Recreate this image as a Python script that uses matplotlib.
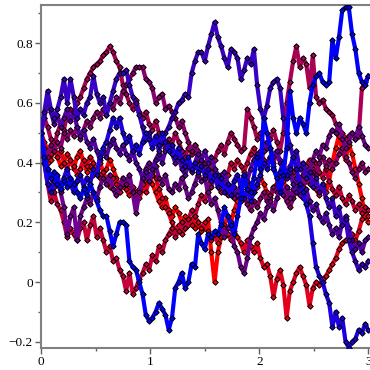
import numpy as np
import matplotlib
matplotlib.use("Agg")
import matplotlib.pyplot as plt
from matplotlib.ticker import MultipleLocator, FixedLocator

dt = 0.03

s0 = [0.50,0.47,0.44,0.41,0.45,0.42,0.39,0.40,0.43,0.41,
      0.38,0.42,0.44,0.40,0.37,0.39,0.36,0.38,0.40,0.37,
      0.38,0.41,0.38,0.35,0.32,0.34,0.31,0.29,0.32,0.30,
      0.28,0.31,0.34,0.36,0.33,0.30,0.27,0.25,0.28,0.24,
      0.22,0.25,0.23,0.20,0.22,0.19,0.21,0.18,0.20,0.17,
      0.18,0.21,0.10,0.00,0.10,0.15,0.19,0.22,0.20,0.24,
      0.27,0.30,0.28,0.31,0.33,0.30,0.32,0.35,0.33,0.30,
      0.28,0.31,0.33,0.36,0.34,0.31,0.28,0.30,0.33,0.35,
      0.32,0.34,0.37,0.34,0.31,0.29,0.32,0.30,0.34,0.40,
      0.45,0.49,0.44,0.41,0.46,0.43,0.38,0.33,0.28,0.22,
      0.20]
s1 = [0.50,0.44,0.40,0.43,0.46,0.42,0.44,0.40,0.38,0.41,
      0.39,0.36,0.38,0.41,0.39,0.42,0.40,0.37,0.35,0.37,
      0.34,0.32,0.35,0.33,0.30,0.33,0.31,0.33,0.30,0.28,
      0.31,0.33,0.30,0.34,0.36,0.35,0.31,0.28,0.25,0.23,
      0.20,0.17,0.19,0.16,0.18,0.21,0.19,0.22,0.20,0.18,
      0.20,0.17,0.14,0.16,0.13,0.15,0.18,0.16,0.14,0.17,
      0.15,0.13,0.10,0.14,0.12,0.10,0.13,0.08,0.05,0.06,
      0.02,-0.05,0.01,0.04,-0.01,-0.12,-0.03,0.00,0.03,0.05,
      0.02,-0.01,-0.08,-0.02,0.00,-0.01,0.01,0.02,0.04,0.06,
      0.08,0.11,0.13,0.14,0.15,0.16,0.14,0.17,0.21,0.24,
      0.22]
s2 = [0.50,0.40,0.33,0.27,0.30,0.26,0.24,0.20,0.15,0.18,
      0.16,0.14,0.18,0.20,0.14,0.19,0.22,0.15,0.18,0.14,
      0.10,0.12,0.07,0.08,0.04,0.02,-0.03,0.03,-0.04,-0.02,
      0.01,0.03,0.06,0.04,0.09,0.07,0.12,0.10,0.14,0.16,
      0.18,0.15,0.17,0.20,0.18,0.21,0.24,0.22,0.26,0.29,
      0.27,0.31,0.34,0.36,0.32,0.30,0.33,0.36,0.40,0.38,
      0.41,0.39,0.37,0.40,0.43,0.45,0.42,0.44,0.41,0.39,
      0.42,0.40,0.43,0.41,0.38,0.36,0.39,0.37,0.34,0.33,
      0.36,0.39,0.41,0.38,0.40,0.37,0.35,0.38,0.34,0.31,
      0.29,0.32,0.28,0.26,0.29,0.27,0.24,0.26,0.23,0.25,
      0.24]
s3 = [0.50,0.55,0.52,0.48,0.45,0.50,0.53,0.51,0.56,0.58,
      0.57,0.60,0.62,0.65,0.68,0.70,0.72,0.73,0.74,0.76,
      0.77,0.79,0.77,0.74,0.72,0.66,0.63,0.60,0.58,0.61,
      0.57,0.55,0.57,0.53,0.51,0.54,0.50,0.47,0.45,0.48,
      0.46,0.50,0.47,0.44,0.42,0.45,0.43,0.46,0.44,0.41,
      0.38,0.40,0.37,0.41,0.44,0.46,0.43,0.47,0.50,0.48,
      0.46,0.44,0.45,0.58,0.55,0.52,0.48,0.50,0.46,0.45,
      0.48,0.51,0.47,0.44,0.50,0.60,0.67,0.74,0.79,0.72,
      0.75,0.73,0.65,0.76,0.62,0.60,0.61,0.58,0.57,0.56,
      0.53,0.51,0.50,0.48,0.49,0.50,0.48,0.49,0.65,0.67,
      0.69]
s4 = [0.50,0.45,0.42,0.46,0.44,0.47,0.45,0.50,0.48,0.51,
      0.49,0.52,0.48,0.51,0.54,0.52,0.55,0.57,0.55,0.58,
      0.56,0.60,0.58,0.62,0.60,0.64,0.66,0.68,0.70,0.72,
      0.72,0.72,0.68,0.67,0.65,0.60,0.62,0.63,0.58,0.59,
      0.57,0.55,0.52,0.54,0.50,0.47,0.44,0.46,0.41,0.38,
      0.40,0.36,0.32,0.35,0.33,0.36,0.32,0.29,0.31,0.28,
      0.30,0.27,0.29,0.26,0.24,0.27,0.25,0.28,0.30,0.27,
      0.29,0.32,0.30,0.33,0.30,0.27,0.25,0.28,0.31,0.29,
      0.32,0.35,0.33,0.37,0.36,0.40,0.42,0.39,0.41,0.38,
      0.40,0.43,0.45,0.42,0.40,0.37,0.35,0.38,0.40,0.37,
      0.38]
s5 = [0.50,0.42,0.38,0.35,0.32,0.34,0.30,0.25,0.16,0.22,
      0.25,0.14,0.22,0.25,0.28,0.26,0.30,0.28,0.32,0.35,
      0.33,0.36,0.31,0.29,0.32,0.35,0.33,0.36,0.30,0.23,
      0.30,0.35,0.38,0.40,0.37,0.39,0.35,0.33,0.36,0.31,
      0.30,0.33,0.31,0.35,0.32,0.28,0.30,0.33,0.36,0.34,
      0.35,0.30,0.26,0.28,0.24,0.20,0.15,0.18,0.20,0.12,
      0.10,0.05,0.03,0.08,0.15,0.18,0.20,0.23,0.21,0.25,
      0.27,0.24,0.28,0.31,0.29,0.32,0.28,0.31,0.35,0.33,
      0.36,0.39,0.37,0.41,0.44,0.42,0.46,0.45,0.49,0.51,
      0.50,0.53,0.48,0.45,0.47,0.50,0.48,0.52,0.49,0.46,
      0.45]
s6 = [0.50,0.55,0.60,0.57,0.53,0.56,0.52,0.55,0.58,0.54,
      0.57,0.52,0.49,0.51,0.47,0.45,0.48,0.44,0.41,0.44,
      0.42,0.46,0.48,0.45,0.43,0.46,0.43,0.41,0.44,0.40,
      0.38,0.35,0.37,0.34,0.38,0.41,0.43,0.40,0.44,0.46,
      0.43,0.40,0.42,0.38,0.36,0.39,0.37,0.40,0.43,0.41,
      0.44,0.40,0.42,0.38,0.36,0.34,0.37,0.33,0.30,0.32,
      0.29,0.33,0.36,0.34,0.38,0.41,0.43,0.40,0.44,0.47,
      0.45,0.42,0.44,0.40,0.38,0.35,0.37,0.33,0.30,0.32,
      0.28,0.31,0.27,0.24,0.26,0.22,0.20,0.23,0.19,0.16,
      0.18,0.15,0.20,0.22,0.18,0.14,0.11,0.13,0.10,0.14,
      0.15]
s7 = [0.50,0.57,0.64,0.58,0.55,0.58,0.62,0.68,0.60,0.68,
      0.62,0.55,0.58,0.56,0.60,0.62,0.69,0.63,0.60,0.62,
      0.56,0.60,0.64,0.68,0.70,0.70,0.71,0.66,0.62,0.60,
      0.56,0.52,0.48,0.50,0.46,0.48,0.44,0.47,0.50,0.52,
      0.55,0.57,0.60,0.61,0.63,0.62,0.70,0.74,0.77,0.77,
      0.74,0.79,0.83,0.87,0.82,0.79,0.75,0.72,0.78,0.77,
      0.75,0.68,0.71,0.75,0.73,0.78,0.66,0.58,0.55,0.59,
      0.65,0.67,0.68,0.65,0.55,0.50,0.46,0.42,0.44,0.38,
      0.40,0.35,0.37,0.32,0.35,0.30,0.33,0.28,0.25,0.28,
      0.22,0.25,0.19,0.21,0.14,0.10,0.07,0.04,0.06,0.05,
      0.07]
s8 = [0.50,0.40,0.33,0.30,0.34,0.36,0.31,0.35,0.38,0.33,
      0.30,0.34,0.36,0.32,0.35,0.33,0.38,0.36,0.42,0.45,
      0.47,0.51,0.55,0.52,0.55,0.50,0.47,0.49,0.44,0.46,
      0.43,0.47,0.50,0.48,0.45,0.49,0.46,0.50,0.47,0.44,
      0.46,0.42,0.45,0.41,0.39,0.42,0.38,0.40,0.37,0.39,
      0.36,0.38,0.34,0.36,0.32,0.35,0.30,0.33,0.29,0.34,
      0.36,0.32,0.28,0.31,0.27,0.30,0.33,0.36,0.40,0.38,
      0.42,0.39,0.35,0.37,0.40,0.36,0.38,0.42,0.38,0.33,
      0.30,0.26,0.22,0.13,0.05,0.02,0.00,-0.04,-0.07,-0.15,
      -0.10,-0.15,-0.12,-0.20,-0.22,-0.20,-0.19,-0.16,-0.17,-0.14,
      -0.16]
s9 = [0.50,0.42,0.38,0.35,0.37,0.33,0.31,0.34,0.32,0.35,
      0.33,0.30,0.28,0.31,0.29,0.33,0.30,0.27,0.24,0.22,
      0.22,0.17,0.12,0.16,0.20,0.20,0.19,0.07,0.05,0.04,
      0.00,-0.04,-0.11,-0.13,-0.12,-0.10,-0.07,-0.09,-0.11,-0.16,
      -0.12,-0.02,0.00,0.03,-0.02,0.00,0.06,0.05,0.16,0.13,
      0.11,0.16,0.15,0.17,0.16,0.19,0.25,0.22,0.19,0.16,
      0.22,0.28,0.36,0.31,0.30,0.35,0.42,0.38,0.55,0.50,
      0.45,0.38,0.35,0.30,0.36,0.45,0.64,0.55,0.50,0.55,
      0.53,0.50,0.60,0.66,0.69,0.70,0.67,0.66,0.67,0.81,
      0.75,0.82,0.91,0.92,0.92,0.83,0.78,0.70,0.67,0.66,
      0.69]

series = [s0, s1, s2, s3, s4, s5, s6, s7, s8, s9]

x_ticks = [0, 1, 2, 3]
x_tick_labels = ["0", "1", "2", "3"]
y_ticks = [-0.2, 0, 0.2, 0.4, 0.6, 0.8]
y_tick_labels = ["\u22120.2", "0", "0.2", "0.4", "0.6", "0.8"]

plt.rcParams['font.family'] = ['Liberation Serif', 'DejaVu Serif']

fig = plt.figure(figsize=(3.7, 3.7), dpi=100)
ax = fig.add_axes([41/370, 22/370, 328/370, 343/370])

n = len(series)
for k, s in enumerate(series):
    t = k / (n - 1)
    col = (1 - t, 0, t)
    xs = np.arange(len(s)) * dt
    ax.plot(xs, s, color=col, lw=3.0, marker='D', ms=2.8,
            mfc=col, mec='black', mew=0.7, solid_joinstyle='round', zorder=2 + k)

ax.set_xlim(0, 3.005)
ax.set_ylim(-0.221, 0.928)
ax.xaxis.set_major_locator(FixedLocator(x_ticks))
ax.set_xticklabels(x_tick_labels)
ax.yaxis.set_major_locator(FixedLocator(y_ticks))
ax.set_yticklabels(y_tick_labels)
ax.xaxis.set_minor_locator(MultipleLocator(0.5))
ax.yaxis.set_minor_locator(MultipleLocator(0.1))

for sp in ax.spines.values():
    sp.set_color('#808080')
    sp.set_linewidth(1.5)
ax.spines['right'].set_visible(False)

ax.tick_params(axis='both', which='major', direction='out', length=4, width=1,
               color='#606060', labelsize=9.5, pad=2)
ax.tick_params(axis='both', which='minor', direction='out', length=2.5, width=1,
               color='#606060')
ax.set_facecolor('white')

fig.savefig('out.png', dpi=100)
